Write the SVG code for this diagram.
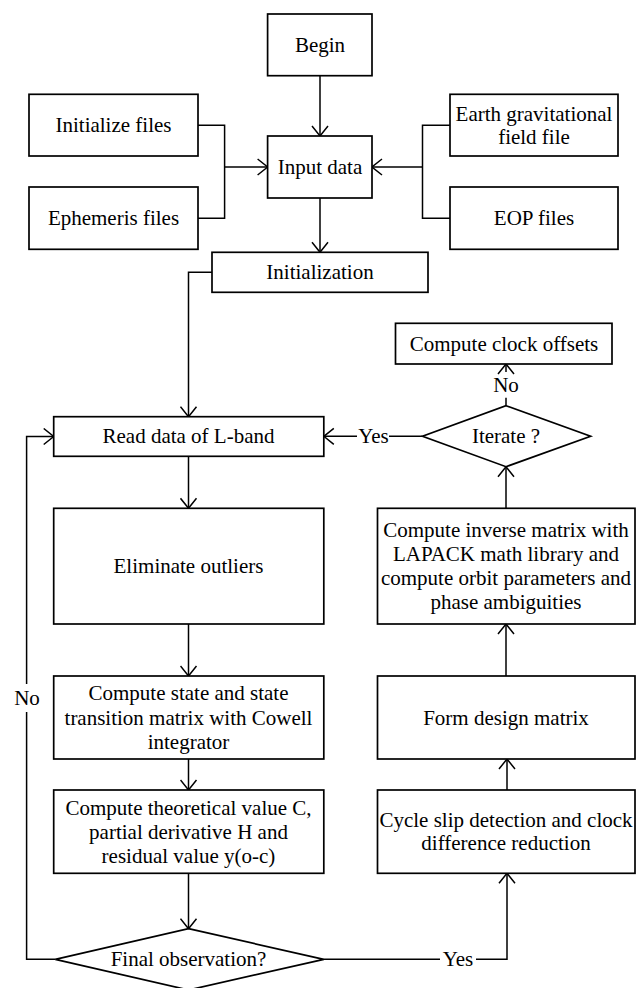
<svg xmlns="http://www.w3.org/2000/svg" width="636" height="988" viewBox="0 0 636 988">
<style>
.n rect, .n polygon { fill: #fff; stroke: #000; stroke-width: 1.7; }
.c path { fill: none; stroke: #000; stroke-width: 1.5; }
text { font-family: "Liberation Serif", "Times New Roman", serif; font-size: 21px; text-anchor: middle; fill: #000; }
</style>
<defs>
<marker id="ah" markerUnits="userSpaceOnUse" viewBox="0 0 12 18" markerWidth="12" markerHeight="18" refX="11" refY="9" orient="auto">
<path d="M1,1 L11,9 L1,17" fill="none" stroke="#000" stroke-width="1.5"/>
</marker>
</defs>
<g class="c" id="connectors">
<path d="M320,75.7 V136" marker-end="url(#ah)"/>
<path d="M198,125.3 H224.6 V218.3 H198"/>
<path d="M224.6,167 H267.6" marker-end="url(#ah)"/>
<path d="M450,125.3 H422.5 V218.3 H450"/>
<path d="M422.5,167 H372" marker-end="url(#ah)"/>
<path d="M320,198 V252.3" marker-end="url(#ah)"/>
<path d="M212,272.3 H188.5 V416.7" marker-end="url(#ah)"/>
<path d="M188.5,456.3 V508.3" marker-end="url(#ah)"/>
<path d="M188.5,624 V676" marker-end="url(#ah)"/>
<path d="M188.5,759 V790" marker-end="url(#ah)"/>
<path d="M188.5,873.3 V928.7" marker-end="url(#ah)"/>
<path d="M55.3,959.3 H26.6 V712"/>
<path d="M26.6,684 V436.5 H53.7" marker-end="url(#ah)"/>
<path d="M323.8,959.3 H440"/>
<path d="M476,959.3 H507 V873.3" marker-end="url(#ah)"/>
<path d="M507,790 V759" marker-end="url(#ah)"/>
<path d="M506,676 V624" marker-end="url(#ah)"/>
<path d="M506,508.3 V466.7" marker-end="url(#ah)"/>
<path d="M422.5,436.3 H389"/>
<path d="M357,436.3 H323.8" marker-end="url(#ah)"/>
<path d="M506,405.7 V397.7"/>
<path d="M506,372 V364" marker-end="url(#ah)"/>
<text x="373.5" y="443.3">Yes</text>
<text x="506" y="392.3">No</text>
<text x="27" y="705.3">No</text>
<text x="458" y="966.3">Yes</text>
</g>
<g class="n" id="begin"><rect x="267.6" y="14" width="104.4" height="61.7"/><text x="320" y="51.5">Begin</text></g>
<g class="n" id="init-files"><rect x="29" y="94.3" width="169" height="61.7"/><text x="113.5" y="132.3">Initialize files</text></g>
<g class="n" id="input-data"><rect x="267.6" y="136" width="104.4" height="62"/><text x="320" y="174">Input data</text></g>
<g class="n" id="ephemeris"><rect x="29" y="187" width="169" height="62.3"/><text x="113.5" y="225.3">Ephemeris files</text></g>
<g class="n" id="earth-grav"><rect x="450" y="94.3" width="168" height="61.7"/><text x="534" y="120.5">Earth gravitational</text><text x="534" y="144">field file</text></g>
<g class="n" id="eop"><rect x="450" y="187" width="168" height="62.3"/><text x="534" y="225.3">EOP files</text></g>
<g class="n" id="initialization"><rect x="212" y="252.3" width="216" height="40"/><text x="320" y="279.3">Initialization</text></g>
<g class="n" id="clock-offsets"><rect x="395.5" y="323.3" width="216.5" height="40.7"/><text x="504" y="351">Compute clock offsets</text></g>
<g class="n" id="iterate"><polygon points="506,405.7 590.6,436.3 506,466.7 422.5,436.3"/><text x="506" y="443.3">Iterate ?</text></g>
<g class="n" id="read-data"><rect x="53.7" y="416.7" width="270.1" height="39.6"/><text x="188.5" y="443.3">Read data of L-band</text></g>
<g class="n" id="eliminate"><rect x="53.7" y="508.3" width="270.1" height="115.7"/><text x="188.5" y="573">Eliminate outliers</text></g>
<g class="n" id="inverse"><rect x="377.5" y="508.3" width="257.5" height="115.7"/><text x="506" y="537">Compute inverse matrix with</text><text x="506" y="561.3">LAPACK math library and</text><text x="506" y="585.3">compute orbit parameters and</text><text x="506" y="609.3">phase ambiguities</text></g>
<g class="n" id="state"><rect x="53.7" y="676" width="270.1" height="83"/><text x="188.5" y="700.3">Compute state and state</text><text x="188.5" y="724.7">transition matrix with Cowell</text><text x="188.5" y="748.7">integrator</text></g>
<g class="n" id="form-design"><rect x="377.5" y="676" width="257.5" height="83"/><text x="506" y="724.7">Form design matrix</text></g>
<g class="n" id="theoretical"><rect x="53.7" y="790" width="270.1" height="83.3"/><text x="188.5" y="814.7">Compute theoretical value C,</text><text x="188.5" y="838.7">partial derivative H and</text><text x="188.5" y="862.7">residual value y(o-c)</text></g>
<g class="n" id="cycle-slip"><rect x="377.5" y="790" width="257.5" height="83.3"/><text x="506" y="827">Cycle slip detection and clock</text><text x="506" y="850.3">difference reduction</text></g>
<g class="n" id="final-obs"><polygon points="188.5,928.7 323.8,959.3 188.5,990 55.3,959.3"/><text x="188.5" y="966.3">Final observation?</text></g>
</svg>
